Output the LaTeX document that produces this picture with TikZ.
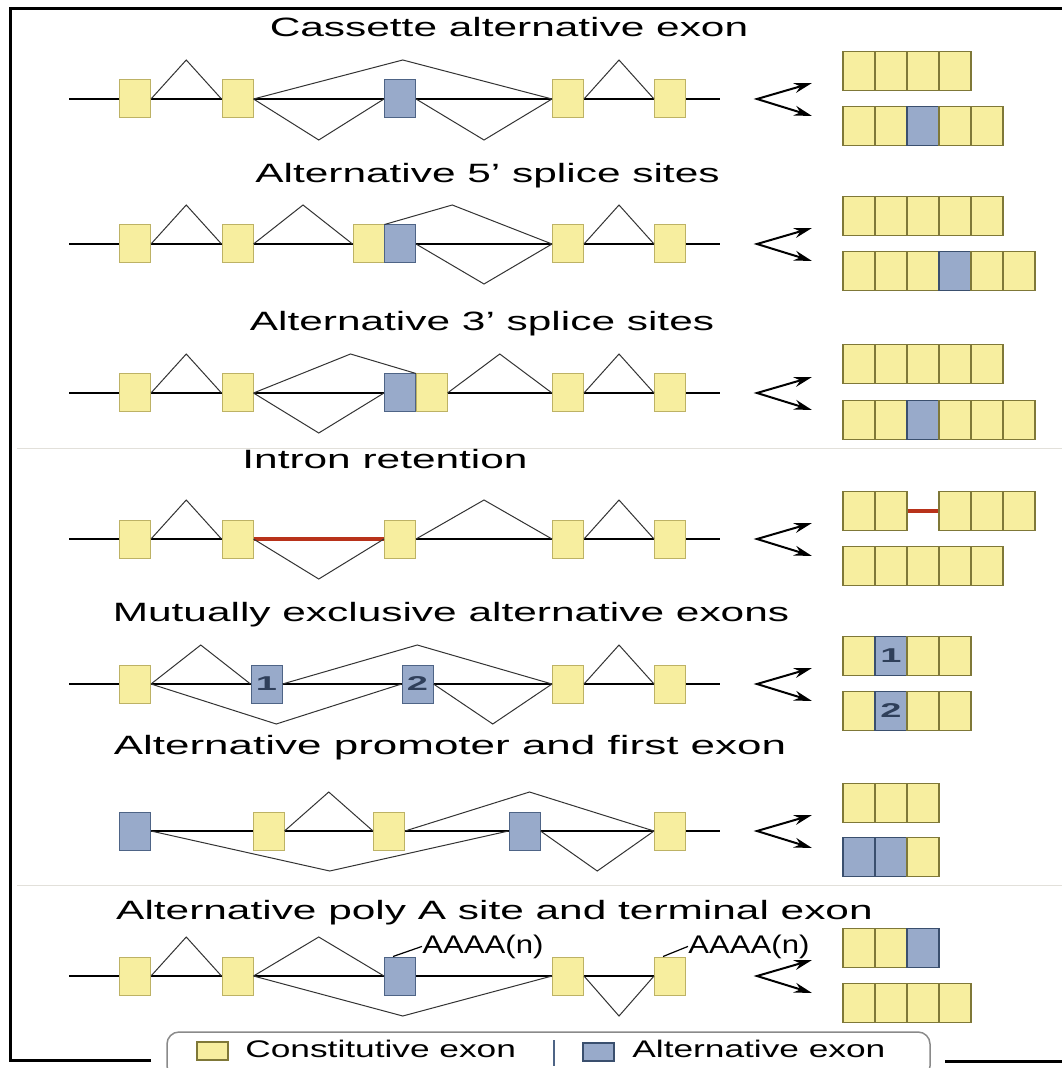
\documentclass[tikz,border=0pt]{standalone}
\usepackage{fontspec}
\setmainfont{Liberation Sans}
\usetikzlibrary{calc,arrows.meta}

\definecolor{exyellow}{HTML}{F7EE9F}
\definecolor{exyellowline}{HTML}{BDB265}
\definecolor{exyellowdark}{HTML}{7F7838}
\definecolor{exblue}{HTML}{98AACA}
\definecolor{exblueline}{HTML}{4E6486}
\definecolor{exbluedark}{HTML}{3A4F6E}
\definecolor{exnum}{HTML}{2F3F5A}
\definecolor{retained}{HTML}{B8321A}
\definecolor{seprule}{HTML}{E2E0DA}
\definecolor{legendline}{HTML}{8A8A8A}

\newcommand{\wide}[2]{\scalebox{#1}[1]{#2}}
\newcommand{\splice}[3]{\draw[intron] (#1) -- ($(#1)!.5!(#2)+(0,#3)$) -- (#2);}

\begin{document}
\begin{tikzpicture}[
    x=0.5pt, y=-0.5pt,
    exon/.style={rectangle, inner sep=0pt, minimum width=15.5pt, minimum height=19pt, line width=0.5pt},
    cexon/.style={exon, fill=exyellow, draw=exyellowline},
    aexon/.style={exon, fill=exblue, draw=exblueline},
    mr/.style={rectangle, inner sep=0pt, minimum width=16pt, minimum height=19.5pt, line width=0.8pt, fill=ex#1, draw=ex#1dark},
    gene/.style={line width=1pt},
    intron/.style={line width=0.5pt, draw=black!80},
    retain/.style={line width=1.6pt, draw=retained},
    forkarrow/.style={line width=1pt, {Stealth[length=9pt,width=5pt]}-{Stealth[length=9pt,width=5pt]}},
    rowtitle/.style={anchor=base, inner sep=0pt, font=\fontsize{13.25}{16}\selectfont},
    polya/.style={anchor=base west, inner sep=0pt, font=\fontsize{12.75}{15}\selectfont},
    leader/.style={line width=0.6pt},
    num/.style={font=\fontsize{10}{12}\selectfont\bfseries, text=exnum},
    legendtext/.style={anchor=base west, inner sep=0pt, font=\fontsize{12}{14}\selectfont},
    legendbox/.style={draw=legendline, line width=0.75pt, rounded corners=6pt},
    frameline/.style={line width=1.5pt},
    sepline/.style={line width=0.5pt, draw=seprule}
  ]
  \fill[white] (0,0) rectangle (1062,1068);
  \useasboundingbox (0,0) rectangle (1062,1068);

  \draw[frameline] (151,1060) -- (10,1060) -- (10,9) -- (1062,9);
  \draw[frameline] (945,1061) -- (1062,1061);
  \draw[sepline] (17,449) -- (1062,449);
  \draw[sepline] (17,885) -- (1062,885);

  \node[rowtitle] (t1) at (509,37) {\wide{1.6}{Cassette alternative exon}};
  \node[rowtitle] (t2) at (487.5,183) {\wide{1.6}{Alternative 5’ splice sites}};
  \node[rowtitle] (t3) at (482,331) {\wide{1.6}{Alternative 3’ splice sites}};
  \node[rowtitle] (t4) at (385,468) {\wide{1.6}{Intron retention}};
  \node[rowtitle] (t5) at (451,621) {\wide{1.6}{Mutually exclusive alternative exons}};
  \node[rowtitle] (t6) at (450,754) {\wide{1.66}{Alternative promoter and first exon}};
  \node[rowtitle] (t7) at (494.5,919) {\wide{1.6}{Alternative poly A site and terminal exon}};

  % cassette
  \coordinate (g1l) at (69,99); \coordinate (g1r) at (720,99);
  \draw[gene] (g1l) -- (g1r);
  \node[cexon] (r1a) at (135,99) {};
  \node[cexon] (r1b) at (237.5,99) {};
  \node[aexon] (r1c) at (400,99) {};
  \node[cexon] (r1d) at (568,99) {};
  \node[cexon] (r1e) at (670,99) {};
  \splice{r1a.east}{r1b.west}{-39}
  \splice{r1b.east}{r1d.west}{-39}
  \splice{r1b.east}{r1c.west}{41}
  \splice{r1c.east}{r1d.west}{41}
  \splice{r1d.east}{r1e.west}{-39}
  \foreach \c [count=\i] in {yellow,yellow,yellow,yellow}
    \node[mr=\c] (m1u\i) at (827+32*\i,71) {};
  \foreach \c [count=\i] in {yellow,yellow,blue,yellow,yellow}
    \node[mr=\c] (m1d\i) at (827+32*\i,126) {};

  % 5' splice sites
  \coordinate (g2l) at (69,244); \coordinate (g2r) at (720,244);
  \draw[gene] (g2l) -- (g2r);
  \node[cexon] (r2a) at (135,244) {};
  \node[cexon] (r2b) at (237.5,244) {};
  \node[cexon] (r2c) at (368.5,244) {};
  \node[aexon] (r2d) at (400,244) {};
  \node[cexon] (r2e) at (568,244) {};
  \node[cexon] (r2f) at (670,244) {};
  \splice{r2a.east}{r2b.west}{-39}
  \splice{r2b.east}{r2c.west}{-39}
  \draw[intron] (r2c.north east) -- ($(r2c.west)!.5!(r2e.west)+(0,-39)$) -- (r2e.west);
  \splice{r2d.east}{r2e.west}{40}
  \splice{r2e.east}{r2f.west}{-39}
  \foreach \c [count=\i] in {yellow,yellow,yellow,yellow,yellow}
    \node[mr=\c] (m2u\i) at (827+32*\i,216) {};
  \foreach \c [count=\i] in {yellow,yellow,yellow,blue,yellow,yellow}
    \node[mr=\c] (m2d\i) at (827+32*\i,271) {};

  % 3' splice sites
  \coordinate (g3l) at (69,393); \coordinate (g3r) at (720,393);
  \draw[gene] (g3l) -- (g3r);
  \node[cexon] (r3a) at (135,393) {};
  \node[cexon] (r3b) at (237.5,393) {};
  \node[aexon] (r3c) at (400,393) {};
  \node[cexon] (r3d) at (431.5,393) {};
  \node[cexon] (r3e) at (568,393) {};
  \node[cexon] (r3f) at (670,393) {};
  \splice{r3a.east}{r3b.west}{-39}
  \draw[intron] (r3b.east) -- ($(r3b.east)!.5!(r3d.east)+(0,-39)$) -- (r3c.north east);
  \splice{r3b.east}{r3c.west}{40}
  \splice{r3d.east}{r3e.west}{-39}
  \splice{r3e.east}{r3f.west}{-39}
  \foreach \c [count=\i] in {yellow,yellow,yellow,yellow,yellow}
    \node[mr=\c] (m3u\i) at (827+32*\i,364) {};
  \foreach \c [count=\i] in {yellow,yellow,blue,yellow,yellow,yellow}
    \node[mr=\c] (m3d\i) at (827+32*\i,420) {};

  % intron retention
  \coordinate (g4l) at (69,539); \coordinate (g4r) at (720,539);
  \draw[gene] (g4l) -- (g4r);
  \node[cexon] (r4a) at (135,539) {};
  \node[cexon] (r4b) at (237.5,539) {};
  \node[cexon] (r4c) at (400,539) {};
  \node[cexon] (r4d) at (568,539) {};
  \node[cexon] (r4e) at (670,539) {};
  \draw[retain] (r4b.east) -- (r4c.west);
  \splice{r4a.east}{r4b.west}{-39}
  \splice{r4b.east}{r4c.west}{40}
  \splice{r4c.east}{r4d.west}{-39}
  \splice{r4d.east}{r4e.west}{-39}
  \foreach \i in {1,2}
    \node[mr=yellow] (m4u\i) at (827+32*\i,511) {};
  \foreach \i in {3,4,5}
    \node[mr=yellow] (m4u\i) at (859+32*\i,511) {};
  \draw[retain] (m4u2.east) -- (m4u3.west);
  \foreach \c [count=\i] in {yellow,yellow,yellow,yellow,yellow}
    \node[mr=\c] (m4d\i) at (827+32*\i,566) {};

  % mutually exclusive
  \coordinate (g5l) at (69,684); \coordinate (g5r) at (720,684);
  \draw[gene] (g5l) -- (g5r);
  \node[cexon] (r5a) at (135,684) {};
  \node[aexon, num] (r5b) at (266.5,684) {\wide{1.9}{1}};
  \node[aexon, num] (r5c) at (417.5,684) {\wide{1.9}{2}};
  \node[cexon] (r5d) at (568,684) {};
  \node[cexon] (r5e) at (670,684) {};
  \splice{r5a.east}{r5b.west}{-39}
  \splice{r5b.east}{r5d.west}{-39}
  \splice{r5a.east}{r5c.west}{40}
  \splice{r5c.east}{r5d.west}{40}
  \splice{r5d.east}{r5e.west}{-39}
  \foreach \c/\n [count=\i] in {yellow/{},blue/1,yellow/{},yellow/{}}
    \node[mr=\c, num] (m5u\i) at (827+32*\i,656) {\wide{1.9}{\n}};
  \foreach \c/\n [count=\i] in {yellow/{},blue/2,yellow/{},yellow/{}}
    \node[mr=\c, num] (m5d\i) at (827+32*\i,711) {\wide{1.9}{\n}};

  % alternative promoter
  \coordinate (g6l) at (135,831); \coordinate (g6r) at (720,831);
  \draw[gene] (g6l) -- (g6r);
  \node[aexon] (r6a) at (135,831) {};
  \node[cexon] (r6b) at (268.5,831) {};
  \node[cexon] (r6c) at (389,831) {};
  \node[aexon] (r6d) at (524.5,831) {};
  \node[cexon] (r6e) at (670,831) {};
  \splice{r6a.east}{r6d.west}{40}
  \splice{r6b.east}{r6c.west}{-39}
  \splice{r6c.east}{r6e.west}{-39}
  \splice{r6d.east}{r6e.west}{40}
  \foreach \c [count=\i] in {yellow,yellow,yellow}
    \node[mr=\c] (m6u\i) at (827+32*\i,803) {};
  \foreach \c [count=\i] in {blue,blue,yellow}
    \node[mr=\c] (m6d\i) at (827+32*\i,857) {};

  % poly A
  \coordinate (g7l) at (69,976); \coordinate (g7r) at (670,976);
  \draw[gene] (g7l) -- (g7r);
  \node[cexon] (r7a) at (135,976) {};
  \node[cexon] (r7b) at (237.5,976) {};
  \node[aexon] (r7c) at (400,976) {};
  \node[cexon] (r7d) at (568,976) {};
  \node[cexon] (r7e) at (670,976) {};
  \splice{r7a.east}{r7b.west}{-39}
  \splice{r7b.east}{r7c.west}{-39}
  \splice{r7b.east}{r7d.west}{40}
  \splice{r7d.east}{r7e.west}{40}
  \node[polya] (pa1) at (422,953) {\wide{1.22}{AAAA(n)}};
  \node[polya] (pa2) at (688,953) {\wide{1.22}{AAAA(n)}};
  \draw[leader] ($(r7c.north)+(-7,0)$) -- (pa1.west);
  \draw[leader] ($(r7e.north)+(-7,0)$) -- (pa2.west);
  \foreach \c [count=\i] in {yellow,yellow,blue}
    \node[mr=\c] (m7u\i) at (827+32*\i,948) {};
  \foreach \c [count=\i] in {yellow,yellow,yellow,yellow}
    \node[mr=\c] (m7d\i) at (827+32*\i,1003) {};

  % forks
  \foreach \y [count=\r] in {99,244,393,539,684,831,976} {
    \coordinate (fork\r) at (757,\y);
    \coordinate (up\r) at (812,\y-16);
    \coordinate (dn\r) at (812,\y+17);
    \draw[forkarrow] (up\r) -- (fork\r) -- (dn\r);
  }

  % legend
  \draw[legendbox] (167,1032) rectangle (930,1078);
  \node[mr=yellow, minimum width=15.5pt, minimum height=9pt] (keyc) at (212.5,1051) {};
  \node[legendtext] (keyctext) at (245,1057) {\wide{1.47}{Constitutive exon}};
  \draw[exblueline, line width=0.6pt] (554,1040) -- (554,1066);
  \node[mr=blue, minimum width=15.5pt, minimum height=9pt] (keya) at (598.5,1052) {};
  \node[legendtext] (keyatext) at (632,1057) {\wide{1.47}{Alternative exon}};
\end{tikzpicture}
\end{document}
